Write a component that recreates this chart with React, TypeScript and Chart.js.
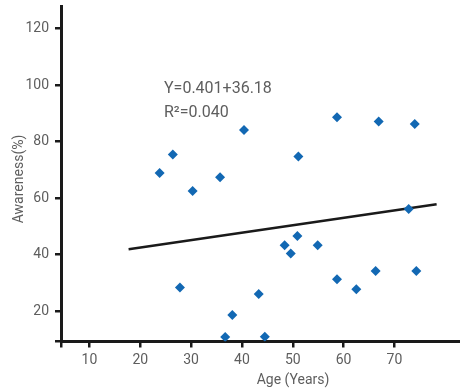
import React, { useEffect, useRef } from "react";
import { Chart, registerables } from "chart.js";

Chart.register(...registerables);

// Survey points: respondent age and awareness score
const ages = [23.8, 26.4, 30.3, 35.7, 40.4, 51.1, 58.7, 66.9, 74.0, 27.8, 36.7, 38.1, 43.3, 44.5, 48.4, 49.6, 50.9, 54.9, 58.7, 62.5, 66.3, 72.8, 74.3];
const awareness = [68.9, 75.4, 62.5, 67.4, 84.1, 74.7, 88.6, 87.1, 86.2, 28.3, 10.8, 18.6, 26.0, 10.9, 43.3, 40.4, 46.6, 43.3, 31.2, 27.7, 34.2, 56.1, 34.2];

// Fitted trend line end points
const trendAges = [17.7, 78.3];
const trendAwareness = [41.9, 57.8];

const xTickValues = [10, 20, 30, 40, 50, 60, 70];
const yTickValues = [20, 40, 60, 80, 100, 120];

const equationLines = ["Y=0.401+36.18", "R\u00B2=0.040"];
const xTitle = "Age (Years)";
const yTitle = "Awareness(%)";

const FONT = "Roboto, 'DejaVu Sans', sans-serif";
const TEXT_COLOR = "#5e5e5e";
const AXIS_COLOR = "#1a1a1a";

const overlayText = {
  id: "overlayText",
  afterDraw(chart: any) {
    const ctx = chart.ctx as CanvasRenderingContext2D;
    ctx.save();
    ctx.fillStyle = TEXT_COLOR;
    ctx.textBaseline = "middle";

    // equation block
    ctx.font = `16px ${FONT}`;
    ctx.textAlign = "left";
    equationLines.forEach((line, i) => {
      ctx.fillText(line, 164, 89 + i * 24);
    });

    // axis titles
    ctx.font = `14px ${FONT}`;
    ctx.textAlign = "center";
    ctx.fillText(xTitle, 293, 380);

    ctx.translate(19, 179);
    ctx.rotate(-Math.PI / 2);
    ctx.fillText(yTitle, 0, 0);
    ctx.restore();
  },
};

// keep the plot box fixed: no automatic room for edge labels
const clearPadding = (s: any) => {
  s.paddingTop = 0;
  s.paddingBottom = 0;
  s.paddingLeft = 0;
  s.paddingRight = 0;
};

export default function App() {
  const canvasRef = useRef<HTMLCanvasElement | null>(null);

  useEffect(() => {
    document.body.style.margin = "0";
    const canvas = canvasRef.current;
    if (!canvas) return;

    const points = ages.map((a, i) => ({ x: a, y: awareness[i] }));
    const trend = trendAges.map((a, i) => ({ x: a, y: trendAwareness[i] }));

    const chart = new Chart(canvas, {
      type: "scatter",
      data: {
        datasets: [
          {
            type: "line",
            data: trend,
            borderColor: AXIS_COLOR,
            borderWidth: 2.5,
            pointRadius: 0,
            fill: false,
            order: 2,
          } as any,
          {
            type: "scatter",
            data: points,
            pointStyle: "rectRot",
            pointRadius: 5,
            backgroundColor: "#1268b3",
            borderColor: "#1268b3",
            borderWidth: 0,
            order: 1,
          },
        ],
      },
      options: {
        responsive: false,
        animation: false,
        devicePixelRatio: 1,
        layout: { autoPadding: false, padding: { top: 6, right: 0, left: 0, bottom: 0 } },
        plugins: {
          legend: { display: false },
          tooltip: { enabled: false },
        },
        scales: {
          x: {
            type: "linear",
            min: 4.4,
            max: 82.9,
            afterBuildTicks: (s: any) => {
              s.ticks = [s.min, ...xTickValues].map((value: number) => ({ value }));
            },
            afterFit: (s: any) => {
              s.height = 49.5;
              clearPadding(s);
            },
            ticks: {
              autoSkip: false,
              maxRotation: 0,
              padding: 5,
              color: TEXT_COLOR,
              font: { family: FONT, size: 14 },
              callback: (v: any) => (xTickValues.includes(Number(v)) ? String(v) : ""),
            },
            grid: {
              display: true,
              drawOnChartArea: false,
              drawTicks: true,
              tickLength: 6,
              color: AXIS_COLOR,
              lineWidth: 2.5,
            },
            border: { display: true, color: AXIS_COLOR, width: 3 },
          },
          y: {
            type: "linear",
            min: 9.2,
            max: 128,
            afterBuildTicks: (s: any) => {
              s.ticks = [s.min, ...yTickValues].map((value: number) => ({ value }));
            },
            afterFit: (s: any) => {
              s.width = 61;
              clearPadding(s);
            },
            ticks: {
              autoSkip: false,
              padding: 6,
              color: TEXT_COLOR,
              font: { family: FONT, size: 14 },
              callback: (v: any) => (yTickValues.includes(Number(v)) ? String(v) : ""),
            },
            grid: {
              display: true,
              drawOnChartArea: false,
              drawTicks: true,
              tickLength: 6,
              color: AXIS_COLOR,
              lineWidth: 2.5,
            },
            border: { display: true, color: AXIS_COLOR, width: 3 },
          },
        },
      },
      plugins: [overlayText],
    });

    return () => chart.destroy();
  }, []);

  return (
    <div style={{ width: 460, height: 391 }}>
      <canvas ref={canvasRef} width={460} height={391} style={{ display: "block" }} />
    </div>
  );
}
